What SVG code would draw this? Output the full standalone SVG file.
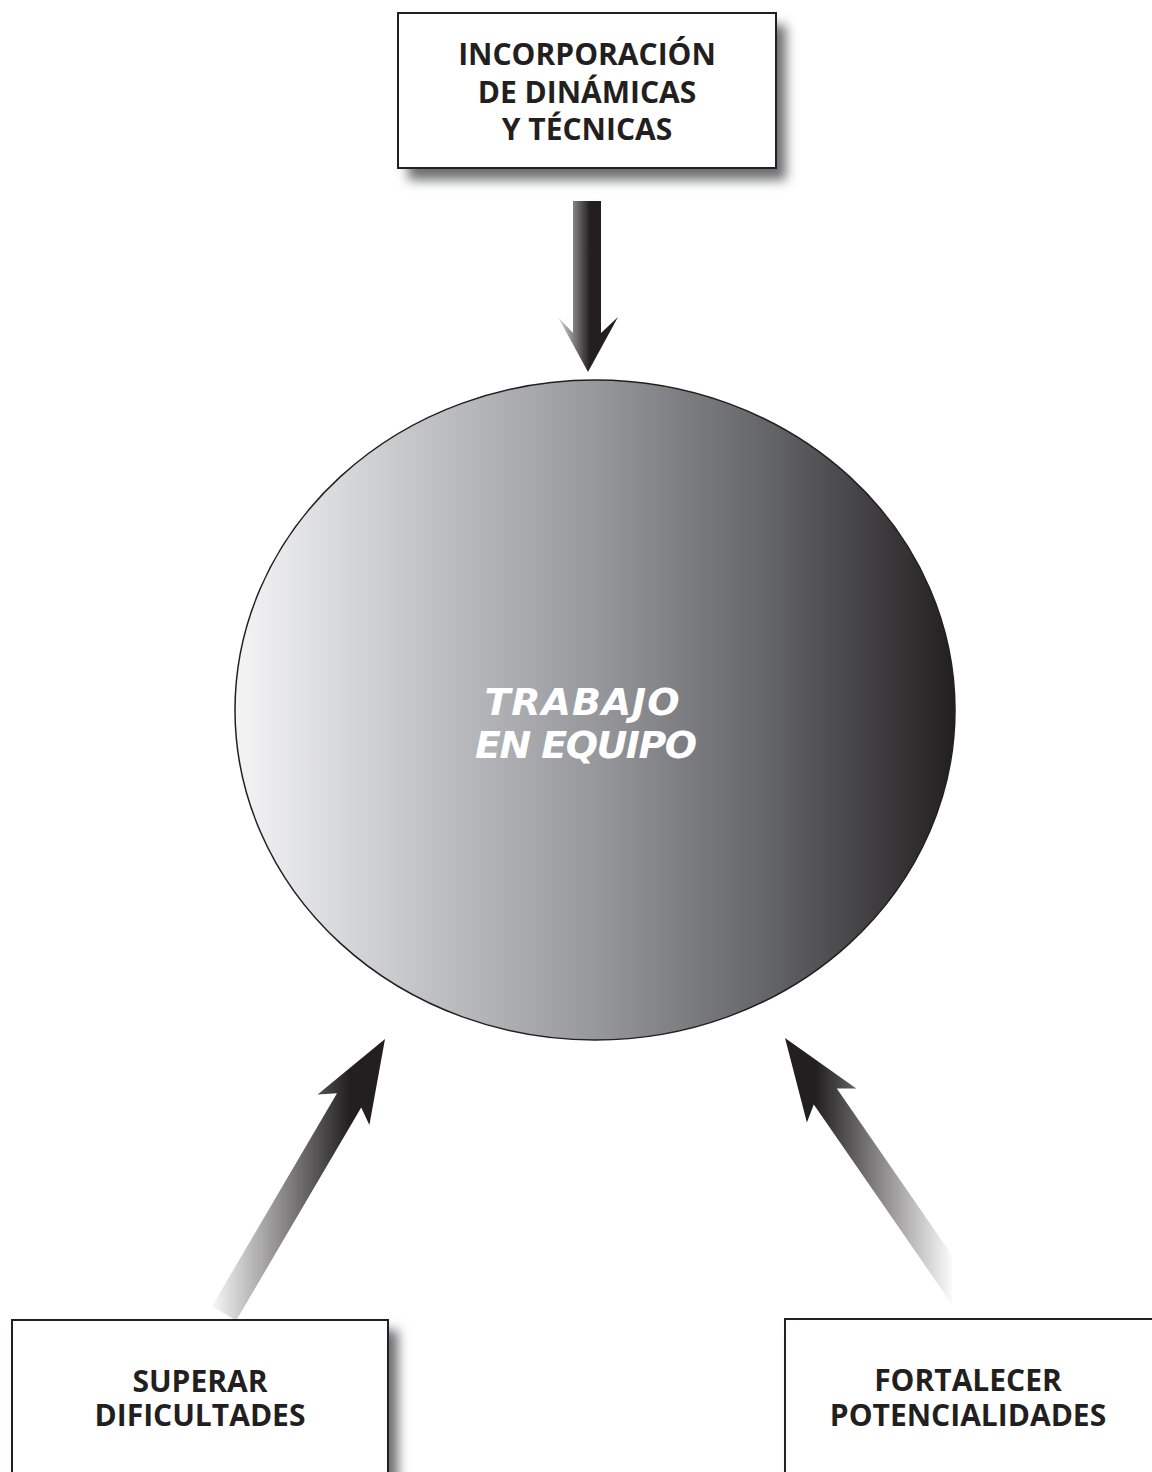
<svg xmlns="http://www.w3.org/2000/svg" width="1152" height="1472" viewBox="0 0 1152 1472">
<style>
.box{fill:#fff;stroke:#231f20;stroke-width:2}
.shadow{fill:#6d6e71;filter:url(#blur)}
.lbl{font-family:"Open Sans","Liberation Sans",sans-serif;font-weight:700;font-size:30px;fill:#231f20;text-anchor:middle}
.ctr{font-family:"DejaVu Sans","Liberation Sans",sans-serif;font-weight:bold;font-style:italic;font-size:38px;fill:#fff;text-anchor:middle}
</style>
<defs>
<filter id="blur" x="-20%" y="-20%" width="140%" height="140%"><feGaussianBlur stdDeviation="6"/></filter>
<linearGradient id="gEll" gradientUnits="userSpaceOnUse" x1="235" y1="0" x2="955" y2="0">
<stop offset="0" stop-color="#f4f4f5"/><stop offset="0.25" stop-color="#c4c5c8"/><stop offset="0.5" stop-color="#97989c"/><stop offset="0.75" stop-color="#626367"/><stop offset="1" stop-color="#231f20"/>
</linearGradient>
<linearGradient id="gTop" gradientUnits="userSpaceOnUse" x1="556" y1="0" x2="590" y2="0">
<stop offset="0" stop-color="#e6e7e8"/><stop offset="1" stop-color="#231f20"/>
</linearGradient>
<linearGradient id="gLeft" gradientUnits="userSpaceOnUse" x1="212" y1="0" x2="350" y2="0">
<stop offset="0" stop-color="#f7f7f7"/><stop offset="1" stop-color="#231f20"/>
</linearGradient>
<linearGradient id="gRight" gradientUnits="userSpaceOnUse" x1="955" y1="0" x2="815" y2="0">
<stop offset="0" stop-color="#ffffff"/><stop offset="1" stop-color="#231f20"/>
</linearGradient>
<clipPath id="clipR"><rect x="0" y="0" width="952" height="1472"/></clipPath>
</defs>
<g id="connectors">
<polygon fill="url(#gTop)" points="573,201 601,201 601,333 618,317 588,372 558,317 573,333"/>
<polygon fill="url(#gLeft)" points="212,1306.3 236.2,1320.5 361.2,1107.4 369.4,1125 385,1039 317.6,1094.6 337,1093.2"/>
<polygon fill="url(#gRight)" clip-path="url(#clipR)" points="960.9,1317.3 983.9,1301.3 836.8,1088.4 856.3,1088.4 785,1038 806.9,1122.4 813.8,1104.4"/>
</g>
<g id="node-top">
<rect class="shadow" x="408" y="25" width="378" height="155"/>
<rect class="box" x="398" y="13" width="378" height="155"/>
<text class="lbl" x="587" y="65">INCORPORACIÓN</text>
<text class="lbl" x="587" y="103">DE DINÁMICAS</text>
<text class="lbl" x="587" y="140">Y TÉCNICAS</text>
</g>
<g id="node-center">
<ellipse cx="595" cy="710" rx="360" ry="330" fill="url(#gEll)" stroke="#231f20" stroke-width="1.5"/>
<text class="ctr" x="582" y="715" textLength="195" lengthAdjust="spacing">TRABAJO</text>
<text class="ctr" x="586" y="758" textLength="222" lengthAdjust="spacing">EN EQUIPO</text>
</g>
<g id="node-left">
<rect class="shadow" x="20" y="1330" width="378" height="160"/>
<rect class="box" x="12" y="1320" width="376" height="160"/>
<text class="lbl" x="200" y="1392">SUPERAR</text>
<text class="lbl" x="200" y="1426">DIFICULTADES</text>
</g>
<g id="node-right">
<rect class="shadow" x="793" y="1329" width="378" height="160"/>
<rect class="box" x="785" y="1319" width="376" height="160"/>
<text class="lbl" x="968" y="1391">FORTALECER</text>
<text class="lbl" x="968" y="1426">POTENCIALIDADES</text>
</g>
</svg>
